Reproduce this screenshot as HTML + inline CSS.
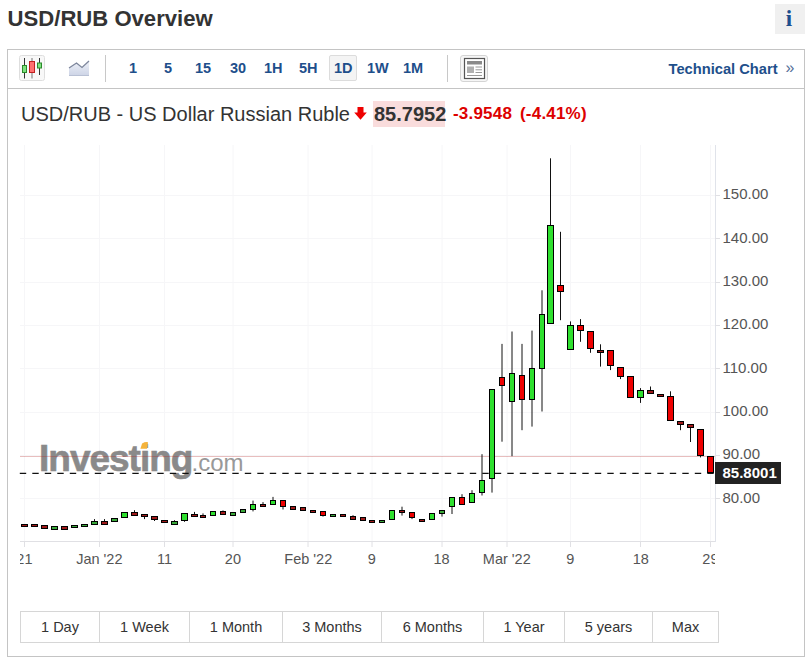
<!DOCTYPE html>
<html><head><meta charset="utf-8"><style>
*{box-sizing:border-box}
html,body{margin:0;padding:0;background:#fff;width:808px;height:662px;overflow:hidden;font-family:"Liberation Sans",sans-serif}
.abs{position:absolute}
.title{left:7.6px;top:4.6px;font-size:22.1px;font-weight:bold;color:#333;line-height:28px;white-space:nowrap}
.info{left:775px;top:4px;width:30px;height:30px;background:#f0f0f0;color:#1d4f8e;font-family:"Liberation Serif",serif;font-weight:bold;font-size:23px;text-align:center;line-height:30px;padding-right:2px}
.box{left:7px;top:49px;width:798px;height:608px;border:1px solid #c4c4c4}
.tb{left:8px;top:88px;width:796px;height:1px;background:#c4c4c4}
.tbtn{font-size:14.5px;font-weight:bold;color:#1e4f8b;top:60px;line-height:16px;white-space:nowrap}
.sel{left:329px;top:55px;width:28px;height:26px;border:1px solid #dcdcdc;border-radius:2px;background:#f4f4f4}
.sep{width:1px;background:#c8c8c8;top:55px;height:27px}
.hdr{left:21px;top:102px;font-size:20px;color:#333;white-space:nowrap;line-height:24px}
.chart{position:absolute;left:0;top:0}
.chart text{font-family:"Liberation Sans",sans-serif}
.yl text{font-size:15px;fill:#555}
.xl text{font-size:14.5px;fill:#555}
.pl{font-size:15px;fill:#fff;font-weight:bold}
.wm{font-size:37px;font-weight:bold;fill:#8a8a8a;stroke:#8a8a8a;stroke-width:0.6px;letter-spacing:-1.0px}
.wm2{font-size:24px;fill:#999}
.bt{top:612px;height:30px;line-height:30px;font-size:14.5px;color:#333;text-align:center;white-space:nowrap}
</style></head><body>
<div class="abs title">USD/RUB Overview</div>
<div class="abs info">i</div>
<div class="abs box"></div>
<div class="abs tb"></div>
<!-- toolbar icons -->
<svg class="abs" style="left:19px;top:55px" width="26" height="27" viewBox="0 0 26 27">
<rect x="0.5" y="0.5" width="25" height="25" rx="2" fill="#f8f8f8" stroke="#dedede"/>
<line x1="5.5" y1="3" x2="5.5" y2="23.5" stroke="#333"/>
<rect x="3.5" y="10.5" width="4" height="7" fill="#7ee07e" stroke="#2a8a2a"/>
<line x1="13" y1="3" x2="13" y2="23.5" stroke="#777"/>
<rect x="10.5" y="6.5" width="5" height="11" fill="#ff7070" stroke="#c02020"/>
<line x1="20.5" y1="3" x2="20.5" y2="20" stroke="#333"/>
<rect x="18.5" y="8" width="4" height="5" fill="#7ee07e" stroke="#2a8a2a"/>
</svg>
<svg class="abs" style="left:68px;top:60px" width="22" height="17" viewBox="0 0 22 17">
<defs><linearGradient id="ag" x1="0" y1="0" x2="0" y2="1"><stop offset="0" stop-color="#eef1f8"/><stop offset="1" stop-color="#cdd4e6"/></linearGradient></defs>
<path d="M1 8 L8.5 3 L14 7.5 L21 1 L21 15.6 L1 15.6 Z" fill="url(#ag)"/>
<path d="M1 8 L8.5 3 L14 7.5 L21 1" fill="none" stroke="#7d869c" stroke-width="1.3"/>
<line x1="1" y1="15.5" x2="21" y2="15.5" stroke="#b8c0d4"/>
</svg>
<div class="abs sep" style="left:105px"></div>
<div class="abs sel"></div>
<div class="abs tbtn" style="left:129px">1</div>
<div class="abs tbtn" style="left:164px">5</div>
<div class="abs tbtn" style="left:195px">15</div>
<div class="abs tbtn" style="left:230px">30</div>
<div class="abs tbtn" style="left:264px">1H</div>
<div class="abs tbtn" style="left:299px">5H</div>
<div class="abs tbtn" style="left:334px">1D</div>
<div class="abs tbtn" style="left:367px">1W</div>
<div class="abs tbtn" style="left:403px">1M</div>
<div class="abs sep" style="left:447px"></div>
<svg class="abs" style="left:460px;top:55px" width="28" height="27" viewBox="0 0 28 27">
<rect x="0.5" y="0.5" width="27" height="26" rx="2.5" fill="#f6f6f6" stroke="#d4d4d4"/>
<rect x="4.5" y="3.5" width="20" height="20" fill="#fff" stroke="#555" stroke-width="1.2"/>
<rect x="7" y="6" width="15" height="3.5" fill="#8a8a8a"/>
<rect x="7" y="11.5" width="7" height="6.5" fill="#b0b0b0"/>
<rect x="15.5" y="11.5" width="6.5" height="1" fill="#999"/>
<rect x="15.5" y="14.3" width="6.5" height="1" fill="#999"/>
<rect x="15.5" y="17" width="6.5" height="1" fill="#999"/>
<rect x="7" y="20" width="15" height="1" fill="#999"/>
</svg>
<div class="abs tbtn" style="left:668.5px;top:61px;font-size:14.7px">Technical Chart</div>
<div class="abs" style="left:785.5px;top:59px;font-size:16px;color:#55709a">&raquo;</div>
<div class="abs hdr">USD/RUB - US Dollar Russian Ruble</div>
<svg class="abs" style="left:354px;top:107px" width="13" height="13" viewBox="0 0 13 13">
<path d="M3.5 0 H9.5 V5.5 H12.8 L6.5 12.8 L0.2 5.5 H3.5 Z" fill="#e00"/>
</svg>
<div class="abs" style="left:373px;top:101px;width:72px;height:26px;background:#f9dcdc"></div>
<div class="abs" style="left:374px;top:101px;font-size:20px;font-weight:bold;color:#333;line-height:26px">85.7952</div>
<div class="abs" style="left:453px;top:103px;font-size:17px;letter-spacing:0.2px;font-weight:bold;color:#dd0000;line-height:22px;white-space:nowrap">-3.9548</div>
<div class="abs" style="left:520px;top:103px;font-size:17px;letter-spacing:0.2px;font-weight:bold;color:#dd0000;line-height:22px;white-space:nowrap">(-4.41%)</div>
<svg class="chart" width="808" height="662" viewBox="0 0 808 662">
<defs><clipPath id="plot"><rect x="20" y="140" width="695" height="402"/></clipPath>
<clipPath id="xax"><rect x="20" y="540" width="695" height="40"/></clipPath></defs>
<g stroke="#f6f6f8" stroke-width="1"><line x1="20" y1="498.5" x2="715" y2="498.5"/><line x1="20" y1="455.5" x2="715" y2="455.5"/><line x1="20" y1="412.5" x2="715" y2="412.5"/><line x1="20" y1="368.5" x2="715" y2="368.5"/><line x1="20" y1="325.5" x2="715" y2="325.5"/><line x1="20" y1="282.5" x2="715" y2="282.5"/><line x1="20" y1="238.5" x2="715" y2="238.5"/><line x1="20" y1="195.5" x2="715" y2="195.5"/><line x1="24.5" y1="145" x2="24.5" y2="541"/><line x1="99.5" y1="145" x2="99.5" y2="541"/><line x1="164.5" y1="145" x2="164.5" y2="541"/><line x1="233" y1="145" x2="233" y2="541"/><line x1="308" y1="145" x2="308" y2="541"/><line x1="372" y1="145" x2="372" y2="541"/><line x1="442" y1="145" x2="442" y2="541"/><line x1="507" y1="145" x2="507" y2="541"/><line x1="570.5" y1="145" x2="570.5" y2="541"/><line x1="640.5" y1="145" x2="640.5" y2="541"/><line x1="710.5" y1="145" x2="710.5" y2="541"/></g>
<g clip-path="url(#plot)">
<text x="39" y="470.5" class="wm">Investing</text>
<text x="191.5" y="470.5" class="wm2">.com</text>
<path d="M140.4 448.7 L147 448.7 L148 442.2 Q145 441.6 142.2 443.4 Z" fill="#f5b43c"/>
</g>
<line x1="20" y1="456.5" x2="715" y2="456.5" stroke="rgba(180,40,40,0.3)" stroke-width="1"/>
<line x1="19.8" y1="473.4" x2="715" y2="473.4" stroke="#111" stroke-width="1.25" stroke-dasharray="6.4 6.1"/>
<g clip-path="url(#plot)"><rect x="21" y="524" width="7" height="3" fill="#000" shape-rendering="crispEdges"/><rect x="22" y="525" width="5" height="1" fill="#a01a1a" shape-rendering="crispEdges"/><rect x="31" y="524" width="7" height="3" fill="#000" shape-rendering="crispEdges"/><rect x="32" y="525" width="5" height="1" fill="#a01a1a" shape-rendering="crispEdges"/><rect x="41" y="525" width="7" height="4" fill="#000" shape-rendering="crispEdges"/><rect x="42" y="526" width="5" height="2" fill="#a01a1a" shape-rendering="crispEdges"/><rect x="51" y="526" width="7" height="4" fill="#000" shape-rendering="crispEdges"/><rect x="52" y="527" width="5" height="2" fill="#3aa83a" shape-rendering="crispEdges"/><rect x="61" y="526" width="7" height="4" fill="#000" shape-rendering="crispEdges"/><rect x="62" y="527" width="5" height="2" fill="#a01a1a" shape-rendering="crispEdges"/><rect x="71" y="525" width="7" height="3" fill="#000" shape-rendering="crispEdges"/><rect x="72" y="526" width="5" height="1" fill="#3aa83a" shape-rendering="crispEdges"/><rect x="81" y="524" width="7" height="3" fill="#000" shape-rendering="crispEdges"/><rect x="82" y="525" width="5" height="1" fill="#3aa83a" shape-rendering="crispEdges"/><line x1="94.5" y1="519.1" x2="94.5" y2="521" stroke="#111"/><rect x="91" y="521" width="7" height="4" fill="#000" shape-rendering="crispEdges"/><rect x="92" y="522" width="5" height="2" fill="#3aa83a" shape-rendering="crispEdges"/><line x1="104.5" y1="519.1" x2="104.5" y2="521" stroke="#111"/><rect x="101" y="521" width="7" height="4" fill="#000" shape-rendering="crispEdges"/><rect x="102" y="522" width="5" height="2" fill="#a01a1a" shape-rendering="crispEdges"/><rect x="111" y="518" width="7" height="4" fill="#000" shape-rendering="crispEdges"/><rect x="112" y="519" width="5" height="2" fill="#3aa83a" shape-rendering="crispEdges"/><rect x="121" y="512" width="7" height="6" fill="#000" shape-rendering="crispEdges"/><rect x="122" y="513" width="5" height="4" fill="#2fe02f" shape-rendering="crispEdges"/><line x1="134.5" y1="510.2" x2="134.5" y2="512" stroke="#111"/><rect x="131" y="512" width="7" height="4" fill="#000" shape-rendering="crispEdges"/><rect x="132" y="513" width="5" height="2" fill="#a01a1a" shape-rendering="crispEdges"/><line x1="144.5" y1="517" x2="144.5" y2="519.1" stroke="#111"/><rect x="141" y="514" width="7" height="3" fill="#000" shape-rendering="crispEdges"/><rect x="142" y="515" width="5" height="1" fill="#a01a1a" shape-rendering="crispEdges"/><line x1="154.5" y1="520" x2="154.5" y2="521.0" stroke="#111"/><rect x="151" y="516" width="7" height="4" fill="#000" shape-rendering="crispEdges"/><rect x="152" y="517" width="5" height="2" fill="#a01a1a" shape-rendering="crispEdges"/><rect x="161" y="520" width="7" height="3" fill="#000" shape-rendering="crispEdges"/><rect x="162" y="521" width="5" height="1" fill="#a01a1a" shape-rendering="crispEdges"/><line x1="174.5" y1="520.2" x2="174.5" y2="521" stroke="#111"/><rect x="171" y="521" width="7" height="4" fill="#000" shape-rendering="crispEdges"/><rect x="172" y="522" width="5" height="2" fill="#3aa83a" shape-rendering="crispEdges"/><line x1="184.5" y1="521" x2="184.5" y2="521.8" stroke="#111"/><rect x="181" y="513" width="7" height="8" fill="#000" shape-rendering="crispEdges"/><rect x="182" y="514" width="5" height="6" fill="#2fe02f" shape-rendering="crispEdges"/><line x1="194.5" y1="511.9" x2="194.5" y2="514" stroke="#111"/><rect x="191" y="514" width="7" height="3" fill="#000" shape-rendering="crispEdges"/><rect x="192" y="515" width="5" height="1" fill="#a01a1a" shape-rendering="crispEdges"/><line x1="203" y1="513.4" x2="203" y2="515" stroke="#111"/><rect x="200" y="515" width="6" height="3" fill="#000" shape-rendering="crispEdges"/><rect x="201" y="516" width="4" height="1" fill="#a01a1a" shape-rendering="crispEdges"/><rect x="210" y="511" width="6" height="5" fill="#000" shape-rendering="crispEdges"/><rect x="211" y="512" width="4" height="3" fill="#2fe02f" shape-rendering="crispEdges"/><line x1="223" y1="510.4" x2="223" y2="511" stroke="#111"/><rect x="220" y="511" width="6" height="4" fill="#000" shape-rendering="crispEdges"/><rect x="221" y="512" width="4" height="2" fill="#a01a1a" shape-rendering="crispEdges"/><rect x="230" y="512" width="6" height="4" fill="#000" shape-rendering="crispEdges"/><rect x="231" y="513" width="4" height="2" fill="#3aa83a" shape-rendering="crispEdges"/><rect x="240" y="509" width="6" height="4" fill="#000" shape-rendering="crispEdges"/><rect x="241" y="510" width="4" height="2" fill="#3aa83a" shape-rendering="crispEdges"/><line x1="253" y1="500.6" x2="253" y2="504" stroke="#111"/><line x1="253" y1="510" x2="253" y2="511.4" stroke="#111"/><rect x="250" y="504" width="6" height="6" fill="#000" shape-rendering="crispEdges"/><rect x="251" y="505" width="4" height="4" fill="#2fe02f" shape-rendering="crispEdges"/><line x1="263" y1="502.1" x2="263" y2="504" stroke="#111"/><rect x="260" y="504" width="6" height="3" fill="#000" shape-rendering="crispEdges"/><rect x="261" y="505" width="4" height="1" fill="#a01a1a" shape-rendering="crispEdges"/><line x1="273" y1="496.9" x2="273" y2="500" stroke="#111"/><rect x="270" y="500" width="6" height="5" fill="#000" shape-rendering="crispEdges"/><rect x="271" y="501" width="4" height="3" fill="#2fe02f" shape-rendering="crispEdges"/><line x1="283" y1="507" x2="283" y2="509.5" stroke="#111"/><rect x="280" y="500" width="6" height="7" fill="#000" shape-rendering="crispEdges"/><rect x="281" y="501" width="4" height="5" fill="#ee0000" shape-rendering="crispEdges"/><rect x="290" y="506" width="6" height="4" fill="#000" shape-rendering="crispEdges"/><rect x="291" y="507" width="4" height="2" fill="#a01a1a" shape-rendering="crispEdges"/><rect x="300" y="507" width="6" height="4" fill="#000" shape-rendering="crispEdges"/><rect x="301" y="508" width="4" height="2" fill="#a01a1a" shape-rendering="crispEdges"/><rect x="310" y="510" width="6" height="3" fill="#000" shape-rendering="crispEdges"/><rect x="311" y="511" width="4" height="1" fill="#a01a1a" shape-rendering="crispEdges"/><line x1="323" y1="516" x2="323" y2="516.6" stroke="#111"/><rect x="320" y="511" width="6" height="5" fill="#000" shape-rendering="crispEdges"/><rect x="321" y="512" width="4" height="3" fill="#ee0000" shape-rendering="crispEdges"/><rect x="330" y="514" width="6" height="3" fill="#000" shape-rendering="crispEdges"/><rect x="331" y="515" width="4" height="1" fill="#3aa83a" shape-rendering="crispEdges"/><rect x="340" y="514" width="6" height="3" fill="#000" shape-rendering="crispEdges"/><rect x="341" y="515" width="4" height="1" fill="#a01a1a" shape-rendering="crispEdges"/><line x1="353" y1="515.2" x2="353" y2="516" stroke="#111"/><rect x="350" y="516" width="6" height="4" fill="#000" shape-rendering="crispEdges"/><rect x="351" y="517" width="4" height="2" fill="#a01a1a" shape-rendering="crispEdges"/><rect x="360" y="517" width="6" height="4" fill="#000" shape-rendering="crispEdges"/><rect x="361" y="518" width="4" height="2" fill="#a01a1a" shape-rendering="crispEdges"/><rect x="369" y="520" width="6" height="3" fill="#000" shape-rendering="crispEdges"/><rect x="370" y="521" width="4" height="1" fill="#a01a1a" shape-rendering="crispEdges"/><rect x="379" y="520" width="6" height="3" fill="#000" shape-rendering="crispEdges"/><rect x="380" y="521" width="4" height="1" fill="#3aa83a" shape-rendering="crispEdges"/><rect x="389" y="510" width="6" height="10" fill="#000" shape-rendering="crispEdges"/><rect x="390" y="511" width="4" height="8" fill="#2fe02f" shape-rendering="crispEdges"/><line x1="402" y1="506.7" x2="402" y2="510" stroke="#111"/><line x1="402" y1="513" x2="402" y2="515.6" stroke="#111"/><rect x="399" y="510" width="6" height="3" fill="#000" shape-rendering="crispEdges"/><rect x="400" y="511" width="4" height="1" fill="#a01a1a" shape-rendering="crispEdges"/><line x1="412" y1="518" x2="412" y2="519.1" stroke="#111"/><rect x="409" y="512" width="6" height="6" fill="#000" shape-rendering="crispEdges"/><rect x="410" y="513" width="4" height="4" fill="#ee0000" shape-rendering="crispEdges"/><rect x="419" y="519" width="6" height="3" fill="#000" shape-rendering="crispEdges"/><rect x="420" y="520" width="4" height="1" fill="#a01a1a" shape-rendering="crispEdges"/><rect x="429" y="513" width="6" height="7" fill="#000" shape-rendering="crispEdges"/><rect x="430" y="514" width="4" height="5" fill="#2fe02f" shape-rendering="crispEdges"/><line x1="442" y1="514" x2="442" y2="516.6" stroke="#111"/><rect x="439" y="510" width="6" height="4" fill="#000" shape-rendering="crispEdges"/><rect x="440" y="511" width="4" height="2" fill="#3aa83a" shape-rendering="crispEdges"/><line x1="452" y1="507" x2="452" y2="514.0" stroke="#111"/><rect x="449" y="497" width="6" height="10" fill="#000" shape-rendering="crispEdges"/><rect x="450" y="498" width="4" height="8" fill="#2fe02f" shape-rendering="crispEdges"/><line x1="462" y1="494.2" x2="462" y2="497" stroke="#111"/><rect x="459" y="497" width="6" height="8" fill="#000" shape-rendering="crispEdges"/><rect x="460" y="498" width="4" height="6" fill="#ee0000" shape-rendering="crispEdges"/><line x1="472" y1="490.2" x2="472" y2="493" stroke="#111"/><rect x="469" y="493" width="6" height="10" fill="#000" shape-rendering="crispEdges"/><rect x="470" y="494" width="4" height="8" fill="#2fe02f" shape-rendering="crispEdges"/><line x1="482" y1="454.2" x2="482" y2="480" stroke="#111"/><line x1="482" y1="493" x2="482" y2="495.5" stroke="#111"/><rect x="479" y="480" width="6" height="13" fill="#000" shape-rendering="crispEdges"/><rect x="480" y="481" width="4" height="11" fill="#2fe02f" shape-rendering="crispEdges"/><line x1="492" y1="479" x2="492" y2="492.6" stroke="#111"/><rect x="489" y="389" width="6" height="90" fill="#000" shape-rendering="crispEdges"/><rect x="490" y="390" width="4" height="88" fill="#2fe02f" shape-rendering="crispEdges"/><line x1="502" y1="343.9" x2="502" y2="377" stroke="#111"/><line x1="502" y1="386" x2="502" y2="441.7" stroke="#111"/><rect x="499" y="377" width="6" height="9" fill="#000" shape-rendering="crispEdges"/><rect x="500" y="378" width="4" height="7" fill="#ee0000" shape-rendering="crispEdges"/><line x1="512" y1="331.5" x2="512" y2="373" stroke="#111"/><line x1="512" y1="402" x2="512" y2="456.2" stroke="#111"/><rect x="509" y="373" width="6" height="29" fill="#000" shape-rendering="crispEdges"/><rect x="510" y="374" width="4" height="27" fill="#2fe02f" shape-rendering="crispEdges"/><line x1="522" y1="343.9" x2="522" y2="375" stroke="#111"/><line x1="522" y1="400" x2="522" y2="430.2" stroke="#111"/><rect x="519" y="375" width="6" height="25" fill="#000" shape-rendering="crispEdges"/><rect x="520" y="376" width="4" height="23" fill="#ee0000" shape-rendering="crispEdges"/><line x1="532" y1="330.6" x2="532" y2="368" stroke="#111"/><line x1="532" y1="400" x2="532" y2="426.6" stroke="#111"/><rect x="529" y="368" width="6" height="32" fill="#000" shape-rendering="crispEdges"/><rect x="530" y="369" width="4" height="30" fill="#2fe02f" shape-rendering="crispEdges"/><line x1="542" y1="290.3" x2="542" y2="314" stroke="#111"/><line x1="542" y1="369" x2="542" y2="411.5" stroke="#111"/><rect x="539" y="314" width="6" height="55" fill="#000" shape-rendering="crispEdges"/><rect x="540" y="315" width="4" height="53" fill="#2fe02f" shape-rendering="crispEdges"/><line x1="550.5" y1="158.3" x2="550.5" y2="225" stroke="#111"/><rect x="547" y="225" width="7" height="99" fill="#000" shape-rendering="crispEdges"/><rect x="548" y="226" width="5" height="97" fill="#2fe02f" shape-rendering="crispEdges"/><line x1="560.5" y1="231.8" x2="560.5" y2="285" stroke="#111"/><line x1="560.5" y1="292" x2="560.5" y2="320.2" stroke="#111"/><rect x="557" y="285" width="7" height="7" fill="#000" shape-rendering="crispEdges"/><rect x="558" y="286" width="5" height="5" fill="#ee0000" shape-rendering="crispEdges"/><line x1="570.5" y1="321.4" x2="570.5" y2="325" stroke="#111"/><rect x="567" y="325" width="7" height="25" fill="#000" shape-rendering="crispEdges"/><rect x="568" y="326" width="5" height="23" fill="#2fe02f" shape-rendering="crispEdges"/><line x1="580.5" y1="319.1" x2="580.5" y2="325" stroke="#111"/><line x1="580.5" y1="331" x2="580.5" y2="341.8" stroke="#111"/><rect x="577" y="325" width="7" height="6" fill="#000" shape-rendering="crispEdges"/><rect x="578" y="326" width="5" height="4" fill="#ee0000" shape-rendering="crispEdges"/><line x1="590.5" y1="349" x2="590.5" y2="352.8" stroke="#111"/><rect x="587" y="331" width="7" height="18" fill="#000" shape-rendering="crispEdges"/><rect x="588" y="332" width="5" height="16" fill="#ee0000" shape-rendering="crispEdges"/><line x1="600.5" y1="344.3" x2="600.5" y2="350" stroke="#111"/><line x1="600.5" y1="353" x2="600.5" y2="366.6" stroke="#111"/><rect x="597" y="350" width="7" height="3" fill="#000" shape-rendering="crispEdges"/><rect x="598" y="351" width="5" height="1" fill="#a01a1a" shape-rendering="crispEdges"/><line x1="610.5" y1="366" x2="610.5" y2="370.1" stroke="#111"/><rect x="607" y="350" width="7" height="16" fill="#000" shape-rendering="crispEdges"/><rect x="608" y="351" width="5" height="14" fill="#ee0000" shape-rendering="crispEdges"/><line x1="620.5" y1="377" x2="620.5" y2="379.1" stroke="#111"/><rect x="617" y="367" width="7" height="10" fill="#000" shape-rendering="crispEdges"/><rect x="618" y="368" width="5" height="8" fill="#ee0000" shape-rendering="crispEdges"/><rect x="627" y="376" width="7" height="22" fill="#000" shape-rendering="crispEdges"/><rect x="628" y="377" width="5" height="20" fill="#ee0000" shape-rendering="crispEdges"/><line x1="640.5" y1="388.1" x2="640.5" y2="390" stroke="#111"/><line x1="640.5" y1="398" x2="640.5" y2="402.9" stroke="#111"/><rect x="637" y="390" width="7" height="8" fill="#000" shape-rendering="crispEdges"/><rect x="638" y="391" width="5" height="6" fill="#2fe02f" shape-rendering="crispEdges"/><line x1="650.5" y1="386.5" x2="650.5" y2="390" stroke="#111"/><rect x="647" y="390" width="7" height="4" fill="#000" shape-rendering="crispEdges"/><rect x="648" y="391" width="5" height="2" fill="#a01a1a" shape-rendering="crispEdges"/><rect x="657" y="394" width="7" height="3" fill="#000" shape-rendering="crispEdges"/><rect x="658" y="395" width="5" height="1" fill="#a01a1a" shape-rendering="crispEdges"/><line x1="670.5" y1="391.3" x2="670.5" y2="396" stroke="#111"/><rect x="667" y="396" width="7" height="25" fill="#000" shape-rendering="crispEdges"/><rect x="668" y="397" width="5" height="23" fill="#ee0000" shape-rendering="crispEdges"/><line x1="680.5" y1="425" x2="680.5" y2="430.2" stroke="#111"/><rect x="677" y="421" width="7" height="4" fill="#000" shape-rendering="crispEdges"/><rect x="678" y="422" width="5" height="2" fill="#a01a1a" shape-rendering="crispEdges"/><line x1="690.5" y1="428" x2="690.5" y2="442.0" stroke="#111"/><rect x="687" y="424" width="7" height="4" fill="#000" shape-rendering="crispEdges"/><rect x="688" y="425" width="5" height="2" fill="#a01a1a" shape-rendering="crispEdges"/><line x1="700.5" y1="456" x2="700.5" y2="457.4" stroke="#111"/><rect x="697" y="429" width="7" height="27" fill="#000" shape-rendering="crispEdges"/><rect x="698" y="430" width="5" height="25" fill="#ee0000" shape-rendering="crispEdges"/><rect x="707" y="456" width="7" height="17" fill="#000" shape-rendering="crispEdges"/><rect x="708" y="457" width="5" height="15" fill="#ee0000" shape-rendering="crispEdges"/></g>
<line x1="20" y1="541.5" x2="715" y2="541.5" stroke="#e0e0e4"/>
<line x1="715.5" y1="145" x2="715.5" y2="542" stroke="#e0e3ea"/>
<g stroke="#e0e0e4"><line x1="24.5" y1="542" x2="24.5" y2="547"/><line x1="99.5" y1="542" x2="99.5" y2="547"/><line x1="164.5" y1="542" x2="164.5" y2="547"/><line x1="233" y1="542" x2="233" y2="547"/><line x1="308" y1="542" x2="308" y2="547"/><line x1="372" y1="542" x2="372" y2="547"/><line x1="442" y1="542" x2="442" y2="547"/><line x1="507" y1="542" x2="507" y2="547"/><line x1="570.5" y1="542" x2="570.5" y2="547"/><line x1="640.5" y1="542" x2="640.5" y2="547"/><line x1="710.5" y1="542" x2="710.5" y2="547"/><line x1="715" y1="498.5" x2="720" y2="498.5"/><line x1="715" y1="455.5" x2="720" y2="455.5"/><line x1="715" y1="412.5" x2="720" y2="412.5"/><line x1="715" y1="368.5" x2="720" y2="368.5"/><line x1="715" y1="325.5" x2="720" y2="325.5"/><line x1="715" y1="282.5" x2="720" y2="282.5"/><line x1="715" y1="238.5" x2="720" y2="238.5"/><line x1="715" y1="195.5" x2="720" y2="195.5"/></g>
<g class="yl"><text x="722.5" y="502.5">80.00</text><text x="722.5" y="459.2">90.00</text><text x="722.5" y="415.8">100.00</text><text x="722.5" y="372.5">110.00</text><text x="722.5" y="329.1">120.00</text><text x="722.5" y="285.8">130.00</text><text x="722.5" y="242.5">140.00</text><text x="722.5" y="199.1">150.00</text></g>
<g class="xl" clip-path="url(#xax)"><text x="24.4" y="564" text-anchor="middle">21</text><text x="99.3" y="564" text-anchor="middle">Jan '22</text><text x="164.5" y="564" text-anchor="middle">11</text><text x="232.9" y="564" text-anchor="middle">20</text><text x="308.3" y="564" text-anchor="middle">Feb '22</text><text x="371.7" y="564" text-anchor="middle">9</text><text x="441.5" y="564" text-anchor="middle">18</text><text x="506.8" y="564" text-anchor="middle">Mar '22</text><text x="570.2" y="564" text-anchor="middle">9</text><text x="640.8" y="564" text-anchor="middle">18</text><text x="710.4" y="564" text-anchor="middle">29</text></g>
<rect x="715" y="462" width="66" height="22" fill="#222"/>
<text x="722.5" y="478" class="pl">85.8001</text>
</svg>
<div class="abs" style="left:20px;top:611px;width:699px;height:32px;border:1px solid #d6d6d6"></div><div class="abs bt" style="left:20px;width:80px">1 Day</div><div class="abs" style="left:99px;top:612px;width:1px;height:30px;background:#d6d6d6"></div><div class="abs bt" style="left:99px;width:91px">1 Week</div><div class="abs" style="left:189px;top:612px;width:1px;height:30px;background:#d6d6d6"></div><div class="abs bt" style="left:189px;width:94px">1 Month</div><div class="abs" style="left:282px;top:612px;width:1px;height:30px;background:#d6d6d6"></div><div class="abs bt" style="left:282px;width:100px">3 Months</div><div class="abs" style="left:381px;top:612px;width:1px;height:30px;background:#d6d6d6"></div><div class="abs bt" style="left:381px;width:103px">6 Months</div><div class="abs" style="left:483px;top:612px;width:1px;height:30px;background:#d6d6d6"></div><div class="abs bt" style="left:483px;width:82px">1 Year</div><div class="abs" style="left:564px;top:612px;width:1px;height:30px;background:#d6d6d6"></div><div class="abs bt" style="left:564px;width:89px">5 years</div><div class="abs" style="left:652px;top:612px;width:1px;height:30px;background:#d6d6d6"></div><div class="abs bt" style="left:652px;width:67px">Max</div>
</body></html>
